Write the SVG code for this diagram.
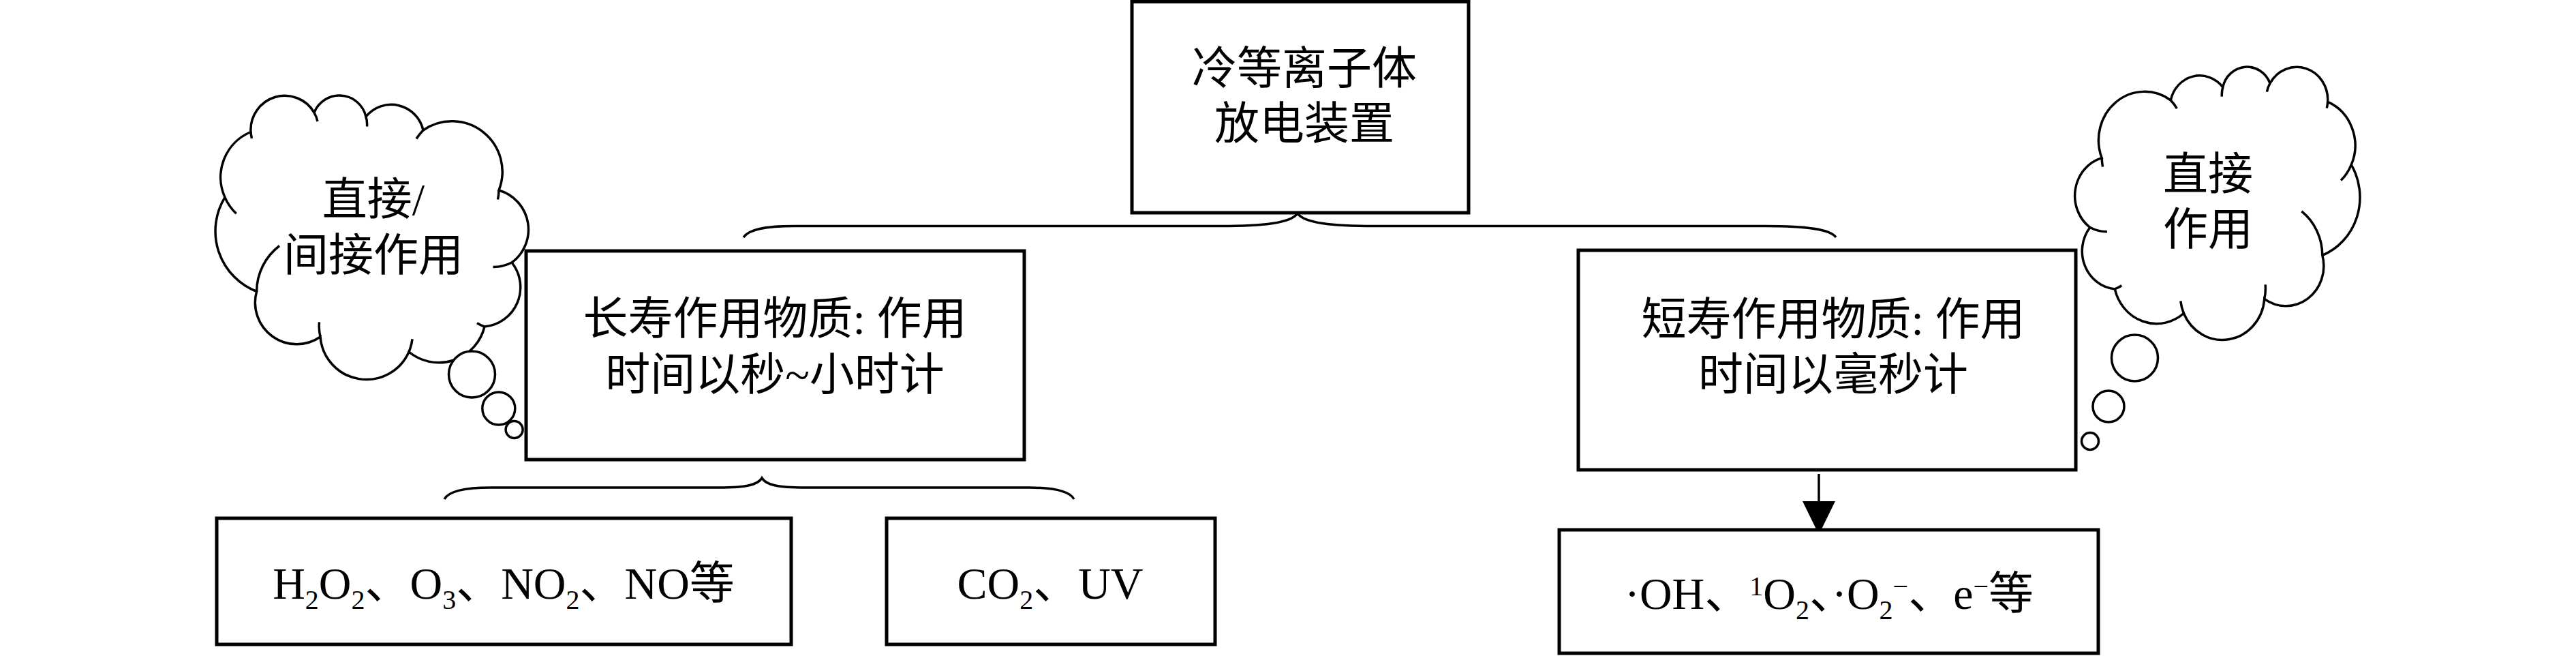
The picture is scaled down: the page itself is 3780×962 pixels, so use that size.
<svg xmlns="http://www.w3.org/2000/svg" xmlns:xlink="http://www.w3.org/1999/xlink" width="3780" height="962" viewBox="0 0 3780 962">
<style>
.box{fill:#fff;stroke:#000;stroke-width:5}
.cloud{fill:#fff;stroke:#000;stroke-width:3.5}
.hook{fill:none;stroke:#000;stroke-width:3.5}
.bubble{fill:#fff;stroke:#000;stroke-width:3.5}
.brace{fill:none;stroke:#000;stroke-width:3.5}
.arrow{fill:none;stroke:#000;stroke-width:3.5}
text{font-family:'Liberation Serif','Noto Sans CJK SC',serif;font-size:66px;fill:#000;text-anchor:middle}
.s{font-size:40px}
</style>
<defs>
<path id="cloudOutline" vector-effect="non-scaling-stroke" d="M368,193.5 A50,50 0 0 1 461,165 A40,40 0 0 1 537,171 A48,48 0 0 1 621,191 A74,74 0 0 1 732,279 A60,60 0 0 1 751,385 A58,58 0 0 1 711,479 A69,69 0 0 1 600,516 A68,68 0 0 1 470,494 A61,61 0 0 1 376.6,427.5 A95,95 0 0 1 330,289.4 A72,72 0 0 1 368,193.5 Z"/>
<path id="cloudHooks" vector-effect="non-scaling-stroke" d="M368,193.5 A50,50 0 0 0 369.5,203 M461,165 A50,50 0 0 1 466,178 M537,171 A40,40 0 0 1 538.5,185.5 M621,191 A74,74 0 0 0 611,203.5 M732,279 A74,74 0 0 1 730.5,292.5 M751,385 A60,60 0 0 1 723.5,391.5 M711,479 A58,58 0 0 1 700,473.7 M600,516 A68,68 0 0 0 605,497.3 M470,494 A68,68 0 0 1 468.5,472.3 M376.6,427.5 A85,85 0 0 1 410,360.5 M330,289.4 A72,72 0 0 0 346.7,313.3"/>
<marker id="arrowhead" markerUnits="userSpaceOnUse" markerWidth="50" markerHeight="50" refX="0" refY="24" orient="auto" viewBox="0 0 50 48">
<path d="M0,0 L49,24 L0,48 Z" fill="#000"/>
</marker>
</defs>
<rect x="0" y="0" width="3780" height="962" fill="#fff"/>

<g id="connectors">
<path class="brace" d="M1091,348 C1098,337 1120,331.5 1165,331.5 L1790,331.5 C1855,331.5 1894,327 1904,313 C1914,327 1953,331.5 2018,331.5 L2590,331.5 C2650,331.5 2686,336 2694,348"/>
<path class="brace" d="M652,732 C658,721 680,715 720,715 L1055,715 C1095,715 1112,711 1118,701 C1124,711 1141,715 1181,715 L1510,715 C1550,715 1570,721 1576,732"/>
<path class="arrow" d="M2669,695 L2669,735" marker-end="url(#arrowhead)"/>
</g>

<g id="node-plasma">
<rect class="box" x="1661" y="2.5" width="494" height="309.5"/>
<text x="1914" y="123">冷等离子体</text>
<text x="1914" y="204">放电装置</text>
</g>

<g id="node-long">
<rect class="box" x="772" y="368" width="731" height="306"/>
<text x="1137" y="490">长寿作用物质: 作用</text>
<text x="1137" y="572">时间以秒~小时计</text>
</g>

<g id="node-short">
<rect class="box" x="2316" y="367" width="730" height="322"/>
<text x="2690" y="491">短寿作用物质: 作用</text>
<text x="2690" y="572">时间以毫秒计</text>
</g>

<g id="node-h2o2">
<rect class="box" x="318" y="760" width="843" height="185"/>
<text x="739" y="878">H<tspan class="s" dy="15">2</tspan><tspan dy="-15">O</tspan><tspan class="s" dy="15">2</tspan><tspan dy="-15">、O</tspan><tspan class="s" dy="15">3</tspan><tspan dy="-15">、NO</tspan><tspan class="s" dy="15">2</tspan><tspan dy="-15">、NO等</tspan></text>
</g>

<g id="node-co2">
<rect class="box" x="1301" y="760" width="482" height="185"/>
<text x="1541" y="878">CO<tspan class="s" dy="15">2</tspan><tspan dy="-15">、UV</tspan></text>
</g>

<g id="node-oh">
<rect class="box" x="2288" y="777" width="791" height="181"/>
<text x="2684" y="893">·OH、<tspan class="s" dy="-20">1</tspan><tspan dy="20">O</tspan><tspan class="s" dy="15">2</tspan><tspan dy="-15">、·O</tspan><tspan class="s" dy="15">2</tspan><tspan class="s" dy="-35">−</tspan><tspan dy="20">、e</tspan><tspan class="s" dy="-20">−</tspan><tspan dy="20">等</tspan></text>
</g>

<g id="cloud-left">
<use xlink:href="#cloudOutline" class="cloud"/>
<use xlink:href="#cloudHooks" class="hook"/>
<circle class="bubble" cx="692.5" cy="549" r="34"/>
<circle class="bubble" cx="731.8" cy="599" r="24"/>
<circle class="bubble" cx="754.6" cy="630" r="12.5"/>
<text x="548" y="315">直接/</text>
<text x="548" y="397">间接作用</text>
</g>

<g id="cloud-right">
<g transform="matrix(-0.9107 0 0 0.9614 3750.8 -36.6)">
<use xlink:href="#cloudOutline" class="cloud"/>
<use xlink:href="#cloudHooks" class="hook"/>
</g>
<circle class="bubble" cx="3132.5" cy="525" r="34"/>
<circle class="bubble" cx="3094" cy="596" r="23"/>
<circle class="bubble" cx="3067" cy="647" r="12.5"/>
<text x="3240" y="278">直接</text>
<text x="3240" y="359">作用</text>
</g>
</svg>
